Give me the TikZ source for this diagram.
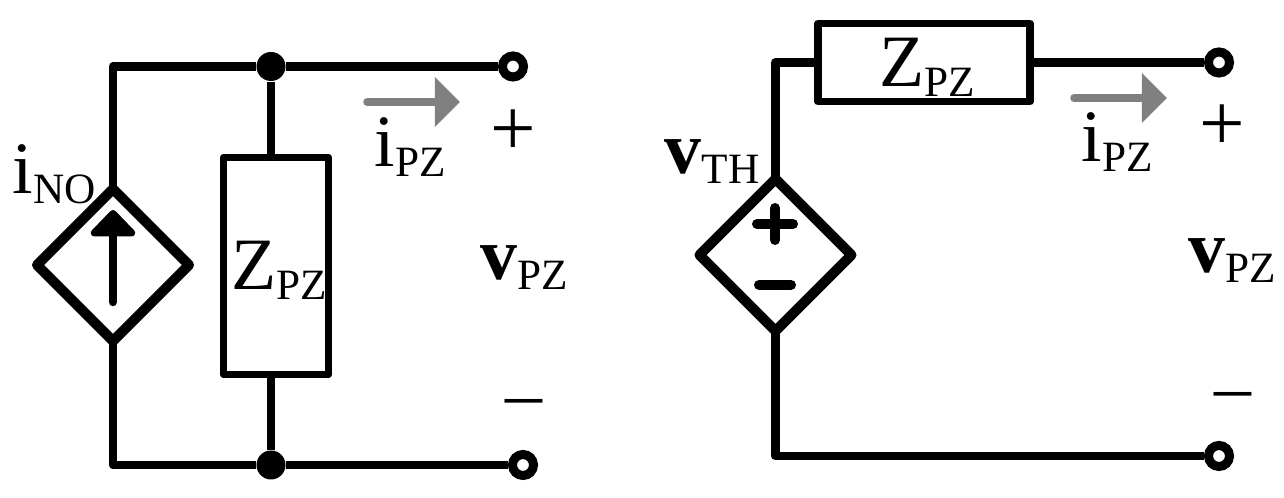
\documentclass[tikz,border=0pt]{standalone}
\usepackage{fontspec}
\setmainfont{Liberation Serif}
\usetikzlibrary{shapes.geometric,arrows.meta}
\newcommand{\bigtxt}{\fontsize{21}{21}\selectfont}
\newcommand{\signtxt}{\fontsize{23}{23}\selectfont}
\newcommand{\lowtxt}[1]{\raisebox{-0.1cm}{\fontsize{12.3}{12.3}\selectfont #1}}
\tikzset{
  wire/.style={line width=0.088cm,line join=round},
  source/.style={diamond,draw,line width=0.1cm,line join=round,inner sep=0pt,outer sep=0pt,minimum size=1.52cm},
  load/.style={rectangle,draw,line width=0.075cm,line join=round,inner sep=0pt},
  junction/.style={circle,fill=black,inner sep=0pt,minimum size=0.29cm},
  terminal/.style={circle,draw,fill=white,line width=0.09cm,inner sep=0pt,minimum size=0.21cm},
  current/.style={draw=gray,line width=0.075cm,line cap=round,-{Triangle[length=0.25cm,width=0.48cm,fill=gray]}},
  label/.style={anchor=base west,inner sep=0pt,font=\bigtxt},
  sign/.style={inner sep=0pt,font=\signtxt},
  polarity/.style={line width=0.1cm,line cap=round}
}
\begin{document}
\begin{tikzpicture}[x=0.01cm,y=-0.01cm]
  \useasboundingbox (0,0) rectangle (1284,498);
  % left circuit
  \node[source] (ino) at (113,265) {};
  \node[load,minimum width=1.05cm,minimum height=2.17cm] (zp) at (276,266) {};
  \node[junction] (jtop) at (271,66.5) {};
  \node[junction] (jbot) at (271,465) {};
  \node[terminal] (atop) at (513,66.5) {};
  \node[terminal] (abot) at (523,465) {};
  \coordinate (zptop) at (271,157);
  \coordinate (zpbot) at (271,374);
  \draw[wire] (ino.north) |- (jtop) -- (atop);
  \draw[wire] (ino.south) |- (jbot) -- (abot);
  \draw[wire] (jtop) -- (zptop);
  \draw[wire] (jbot) -- (zpbot);
  \coordinate (inoa) at (113,302);
  \coordinate (inob) at (113,210);
  \draw[line width=0.085cm,line cap=round,-{Triangle[round,length=0.28cm,width=0.52cm]}] (inoa) -- (inob);
  \coordinate (ia) at (367,102);
  \coordinate (ib) at (460,102);
  \draw[current] (ia) -- (ib);
  \node[label] (lino) at (12,194) {i\lowtxt{NO}};
  \node[label] (lzp) at (231,290) {Z\lowtxt{PZ}};
  \node[label] (lia) at (374,167) {i\lowtxt{PZ}};
  \node[label] (lva) at (480,280) {\textbf{v}\lowtxt{PZ}};
  \node[sign] (pa) at (513,133) {+};
  \node[label,anchor=center] (ma) at (524,409) {–};
  % right circuit
  \node[source] (vth) at (775.5,255) {};
  \node[load,minimum width=2.12cm,minimum height=0.78cm] (zs) at (924,62.5) {};
  \node[terminal] (btop) at (1219,62.5) {};
  \node[terminal] (bbot) at (1219,456) {};
  \draw[wire] (vth.north) |- (zs.west);
  \draw[wire] (zs.east) -- (btop);
  \draw[wire] (vth.south) |- (bbot);
  \draw[polarity] (757,224) -- (793,224);
  \draw[polarity] (775,208) -- (775,240);
  \draw[polarity] (759,285) -- (791,285);
  \coordinate (ic) at (1074,98);
  \coordinate (id) at (1167,98);
  \draw[current] (ic) -- (id);
  \node[label] (lvth) at (664,174) {\textbf{v}\lowtxt{TH}};
  \node[label] (lzs) at (879,87) {Z\lowtxt{PZ}};
  \node[label] (lib) at (1081,162) {i\lowtxt{PZ}};
  \node[label] (lvb) at (1188,273) {\textbf{v}\lowtxt{PZ}};
  \node[sign] (pb) at (1222,128) {+};
  \node[label,anchor=center] (mb) at (1233,402) {–};
\end{tikzpicture}
\end{document}
